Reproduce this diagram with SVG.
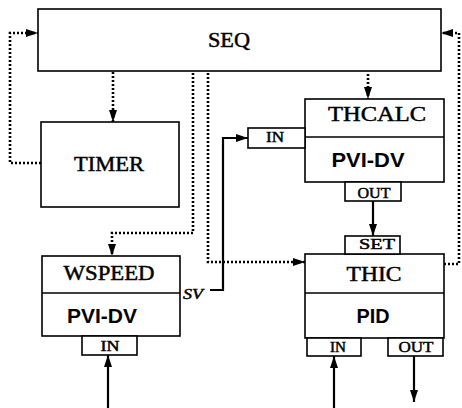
<svg xmlns="http://www.w3.org/2000/svg" width="462" height="408" viewBox="0 0 462 408">
<style>
.box{fill:#fff;stroke:#000;stroke-width:1.6}
.div{stroke:#000;stroke-width:1.6}
.serif{font-family:"Liberation Serif","Times New Roman",serif;fill:#000;stroke:#000;stroke-width:0.45}
.sans{font-family:"Liberation Sans",Arial,sans-serif;font-weight:bold;fill:#000}
.t{font-size:20px}
.p{font-size:14px}
.dot{fill:none;stroke:#000;stroke-width:2.6;stroke-dasharray:2 2}
.solid{fill:none;stroke:#000;stroke-width:2.2}
</style>
<defs>
<marker id="ah" markerUnits="userSpaceOnUse" markerWidth="14" markerHeight="9" refX="12" refY="4" orient="auto">
<path d="M0,0 L12,4 L0,8 z" fill="#000" stroke="none"/>
</marker>
</defs>
<rect width="462" height="408" fill="#fff"/>
<g id="connectors">
<polyline class="dot" points="41,163 10,163 10,33 38,33" marker-end="url(#ah)"/>
<polyline class="dot" points="444,264 459,264 459,33 441,33" marker-end="url(#ah)"/>
<line class="dot" x1="113" y1="72" x2="113" y2="122" marker-end="url(#ah)"/>
<line class="dot" x1="368" y1="74" x2="368" y2="99" marker-end="url(#ah)"/>
<polyline class="dot" points="193,73 193,233 112,233 112,256" marker-end="url(#ah)"/>
<polyline class="dot" points="208,73 208,262 305,262" marker-end="url(#ah)"/>
<polyline class="solid" points="210,290 223,290 223,138 248,138" marker-end="url(#ah)"/>
<line class="solid" x1="373" y1="201" x2="373" y2="236" marker-end="url(#ah)"/>
<line class="solid" x1="108" y1="408" x2="108" y2="355" marker-end="url(#ah)"/>
<line class="solid" x1="334" y1="408" x2="334" y2="356" marker-end="url(#ah)"/>
<line class="solid" x1="414" y1="356" x2="414" y2="402" marker-end="url(#ah)"/>
</g>
<g id="SEQ">
<rect class="box" x="38" y="9" width="403" height="62"/>
<text class="serif t" x="229" y="47" text-anchor="middle" textLength="42" lengthAdjust="spacingAndGlyphs">SEQ</text>
</g>
<g id="TIMER">
<rect class="box" x="41" y="122" width="138" height="85"/>
<text class="serif t" x="109" y="171" text-anchor="middle" textLength="70" lengthAdjust="spacingAndGlyphs">TIMER</text>
</g>
<g id="THCALC">
<rect class="box" x="305" y="99" width="139" height="83"/>
<line class="div" x1="305" y1="137" x2="444" y2="137"/>
<text class="serif t" x="377" y="121" text-anchor="middle" textLength="98" lengthAdjust="spacingAndGlyphs">THCALC</text>
<text class="sans t" x="368" y="167" text-anchor="middle" textLength="73" lengthAdjust="spacingAndGlyphs">PVI-DV</text>
<rect class="box" x="248" y="128" width="57" height="20"/>
<text class="serif p" x="275" y="142" text-anchor="middle" textLength="18" lengthAdjust="spacingAndGlyphs">IN</text>
<rect class="box" x="345" y="182" width="56" height="19"/>
<text class="serif p" x="374" y="198" text-anchor="middle" textLength="33" lengthAdjust="spacingAndGlyphs">OUT</text>
</g>
<g id="WSPEED">
<rect class="box" x="42" y="256" width="138" height="80"/>
<line class="div" x1="42" y1="293" x2="180" y2="293"/>
<text class="serif t" x="109" y="280" text-anchor="middle" textLength="91" lengthAdjust="spacingAndGlyphs">WSPEED</text>
<text class="sans t" x="102" y="323" text-anchor="middle" textLength="70" lengthAdjust="spacingAndGlyphs">PVI-DV</text>
<rect class="box" x="82" y="336" width="55" height="19"/>
<text class="serif p" x="110" y="351" text-anchor="middle" textLength="19" lengthAdjust="spacingAndGlyphs">IN</text>
<text class="serif p" x="183" y="299" font-style="italic" textLength="20" lengthAdjust="spacingAndGlyphs">SV</text>
</g>
<g id="THIC">
<rect class="box" x="305" y="254" width="139" height="84"/>
<line class="div" x1="305" y1="293" x2="444" y2="293"/>
<text class="serif t" x="374" y="281" text-anchor="middle" textLength="55" lengthAdjust="spacingAndGlyphs">THIC</text>
<text class="sans t" x="373" y="323" text-anchor="middle" textLength="33" lengthAdjust="spacingAndGlyphs">PID</text>
<rect class="box" x="345" y="236" width="55" height="18"/>
<text class="serif p" x="377" y="249" text-anchor="middle" textLength="36" lengthAdjust="spacingAndGlyphs">SET</text>
<rect class="box" x="307" y="338" width="54" height="18"/>
<text class="serif p" x="338" y="352" text-anchor="middle" textLength="16" lengthAdjust="spacingAndGlyphs">IN</text>
<rect class="box" x="388" y="338" width="55" height="18"/>
<text class="serif p" x="416" y="352" text-anchor="middle" textLength="35" lengthAdjust="spacingAndGlyphs">OUT</text>
</g>
</svg>
